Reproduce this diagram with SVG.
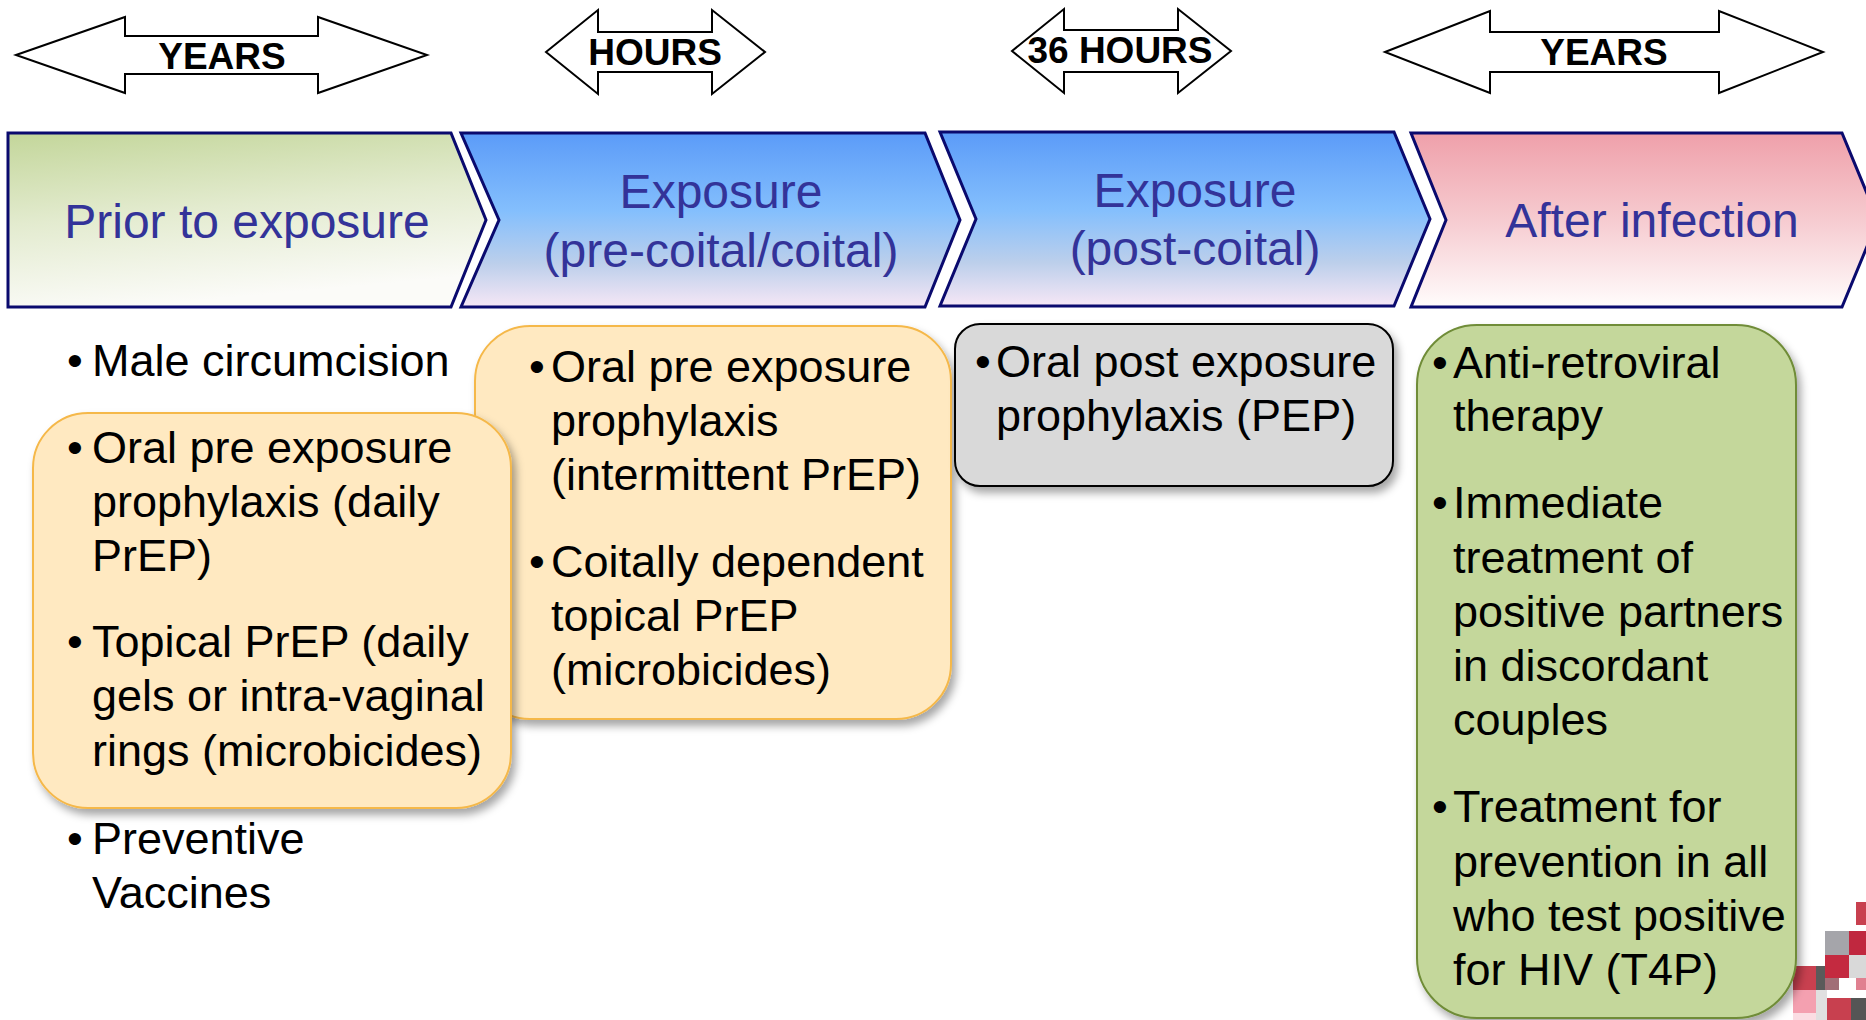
<svg xmlns="http://www.w3.org/2000/svg" width="1866" height="1020" viewBox="0 0 1866 1020">
<style>
text{font-family:"Liberation Sans",Arial,sans-serif}
.dur{fill:#fff;stroke:#000;stroke-width:2}
.durt{font-size:37px;font-weight:bold;fill:#000;text-anchor:middle}
.chev{stroke:#0a0a6e;stroke-width:3;stroke-linejoin:miter}
.ttl{font-size:48px;fill:#333399;text-anchor:middle}
.bt{font-size:45px;fill:#000}
.orange{fill:#ffe9c1;stroke:#f5b84a;stroke-width:2}
.gray{fill:#d9d9d9;stroke:#000;stroke-width:2}
.green{fill:#c4d79b;stroke:#6f8c37;stroke-width:2}
</style>
<defs>
<linearGradient id="gGreen" x1="0" y1="0" x2="0.25" y2="1">
<stop offset="0" stop-color="#c3d69a"/>
<stop offset="0.5" stop-color="#e3ebcf"/>
<stop offset="1" stop-color="#fbfbf8"/>
</linearGradient>
<linearGradient id="gBlue" x1="0" y1="0" x2="0" y2="1">
<stop offset="0" stop-color="#5b9bf8"/>
<stop offset="0.45" stop-color="#84bffd"/>
<stop offset="0.75" stop-color="#bccfeb"/>
<stop offset="1" stop-color="#f6e7f6"/>
</linearGradient>
<linearGradient id="gPink" x1="0" y1="0" x2="0" y2="1">
<stop offset="0" stop-color="#efa0aa"/>
<stop offset="0.5" stop-color="#f6cbd0"/>
<stop offset="1" stop-color="#fffcfc"/>
</linearGradient>
<filter id="sh" x="-10%" y="-10%" width="125%" height="125%">
<feDropShadow dx="4" dy="6" stdDeviation="4" flood-color="#000" flood-opacity="0.35"/>
</filter>
</defs>

<g id="logo">
<rect x="1856" y="902" width="10" height="23" fill="#c8404f"/>
<rect x="1825" y="931" width="24" height="24" fill="#a5a5aa"/>
<rect x="1849" y="931" width="17" height="24" fill="#c0283f"/>
<rect x="1825" y="955" width="24" height="23" fill="#c42a40"/>
<rect x="1849" y="955" width="17" height="23" fill="#d9d9d9"/>
<rect x="1793" y="966" width="23" height="24" fill="#c8404f"/>
<rect x="1816" y="966" width="9" height="24" fill="#5a5a5a"/>
<rect x="1825" y="978" width="14" height="12" fill="#8a4a55" opacity="0.8"/>
<rect x="1856" y="978" width="10" height="12" fill="#e08090"/>
<rect x="1793" y="990" width="23" height="23" fill="#f4a0b0"/>
<rect x="1816" y="990" width="11" height="30" fill="#e0e0e0"/>
<rect x="1827" y="998" width="24" height="22" fill="#c8404f"/>
<rect x="1851" y="998" width="15" height="22" fill="#555"/>
<rect x="1793" y="1013" width="23" height="7" fill="#fbdde3"/>
</g>

<g id="dur-years-1">
<path class="dur" d="M16,55 L125,17 L125,36 L318,36 L318,17 L427,55 L318,93 L318,74 L125,74 L125,93 Z"/>
<text class="durt" x="222" y="69">YEARS</text>
</g>
<g id="dur-hours">
<path class="dur" d="M546,52 L598,10 L598,32 L712,32 L712,10 L765,52 L712,94 L712,72 L598,72 L598,94 Z"/>
<text class="durt" x="655" y="65">HOURS</text>
</g>
<g id="dur-36hours">
<path class="dur" d="M1012,51 L1064,9 L1064,30 L1178,30 L1178,9 L1231,51 L1178,93 L1178,72 L1064,72 L1064,93 Z"/>
<text class="durt" x="1120" y="63">36 HOURS</text>
</g>
<g id="dur-years-2">
<path class="dur" d="M1385,52 L1490,11 L1490,32 L1719,32 L1719,11 L1823,52 L1719,93 L1719,72 L1490,72 L1490,93 Z"/>
<text class="durt" x="1604" y="65">YEARS</text>
</g>

<g id="stage-prior">
<path class="chev" fill="url(#gGreen)" d="M8,133 L451,133 L486,220 L451,307 L8,307 Z"/>
<text class="ttl" x="247" y="238">Prior to exposure</text>
</g>
<g id="stage-exposure-pre">
<path class="chev" fill="url(#gBlue)" d="M461,133 L925,133 L960,220 L925,307 L461,307 L499,220 Z"/>
<text class="ttl" x="721" y="208">Exposure</text>
<text class="ttl" x="721" y="267">(pre-coital/coital)</text>
</g>
<g id="stage-exposure-post">
<path class="chev" fill="url(#gBlue)" d="M940,132 L1394,132 L1430,219 L1394,306 L940,306 L976,219 Z"/>
<text class="ttl" x="1195" y="207">Exposure</text>
<text class="ttl" x="1195" y="265">(post-coital)</text>
</g>
<g id="stage-after">
<path class="chev" fill="url(#gPink)" d="M1411,133 L1842,133 L1878,220 L1842,307 L1411,307 L1446,220 Z"/>
<text class="ttl" x="1652" y="237">After infection</text>
</g>

<g id="connectors"></g>

<g id="prior-male">
<text class="bt" x="67" y="376">•</text>
<text class="bt" x="92" y="376">Male circumcision</text>
</g>

<g id="box-precoital">
<rect class="orange" filter="url(#sh)" x="475" y="326" width="476" height="393" rx="55"/>
<text class="bt" x="529" y="382">•</text>
<text class="bt" x="551" y="382">Oral pre exposure</text>
<text class="bt" x="551" y="436">prophylaxis</text>
<text class="bt" x="551" y="490">(intermittent PrEP)</text>
<text class="bt" x="529" y="577">•</text>
<text class="bt" x="551" y="577">Coitally dependent</text>
<text class="bt" x="551" y="631">topical PrEP</text>
<text class="bt" x="551" y="685">(microbicides)</text>
</g>

<g id="box-prior">
<rect class="orange" filter="url(#sh)" x="33" y="413" width="478" height="395" rx="55"/>
<text class="bt" x="67" y="463">•</text>
<text class="bt" x="92" y="463">Oral pre exposure</text>
<text class="bt" x="92" y="517">prophylaxis (daily</text>
<text class="bt" x="92" y="571">PrEP)</text>
<text class="bt" x="67" y="657">•</text>
<text class="bt" x="92" y="657">Topical PrEP (daily</text>
<text class="bt" x="92" y="711">gels or intra-vaginal</text>
<text class="bt" x="92" y="766">rings (microbicides)</text>
</g>

<g id="prior-vaccines">
<text class="bt" x="67" y="854">•</text>
<text class="bt" x="92" y="854">Preventive</text>
<text class="bt" x="92" y="908">Vaccines</text>
</g>

<g id="box-pep">
<rect class="gray" filter="url(#sh)" x="955" y="324" width="438" height="162" rx="25"/>
<text class="bt" x="975" y="377">•</text>
<text class="bt" x="996" y="377">Oral post exposure</text>
<text class="bt" x="996" y="431">prophylaxis (PEP)</text>
</g>

<g id="box-after">
<rect class="green" filter="url(#sh)" x="1417" y="325" width="379" height="693" rx="60"/>
<text class="bt" x="1432" y="378">•</text>
<text class="bt" x="1453" y="378">Anti-retroviral</text>
<text class="bt" x="1453" y="431">therapy</text>
<text class="bt" x="1432" y="518">•</text>
<text class="bt" x="1453" y="518">Immediate</text>
<text class="bt" x="1453" y="573">treatment of</text>
<text class="bt" x="1453" y="627">positive partners</text>
<text class="bt" x="1453" y="681">in discordant</text>
<text class="bt" x="1453" y="735">couples</text>
<text class="bt" x="1432" y="822">•</text>
<text class="bt" x="1453" y="822">Treatment for</text>
<text class="bt" x="1453" y="877">prevention in all</text>
<text class="bt" x="1453" y="931">who test positive</text>
<text class="bt" x="1453" y="985">for HIV (T4P)</text>
</g>
</svg>
